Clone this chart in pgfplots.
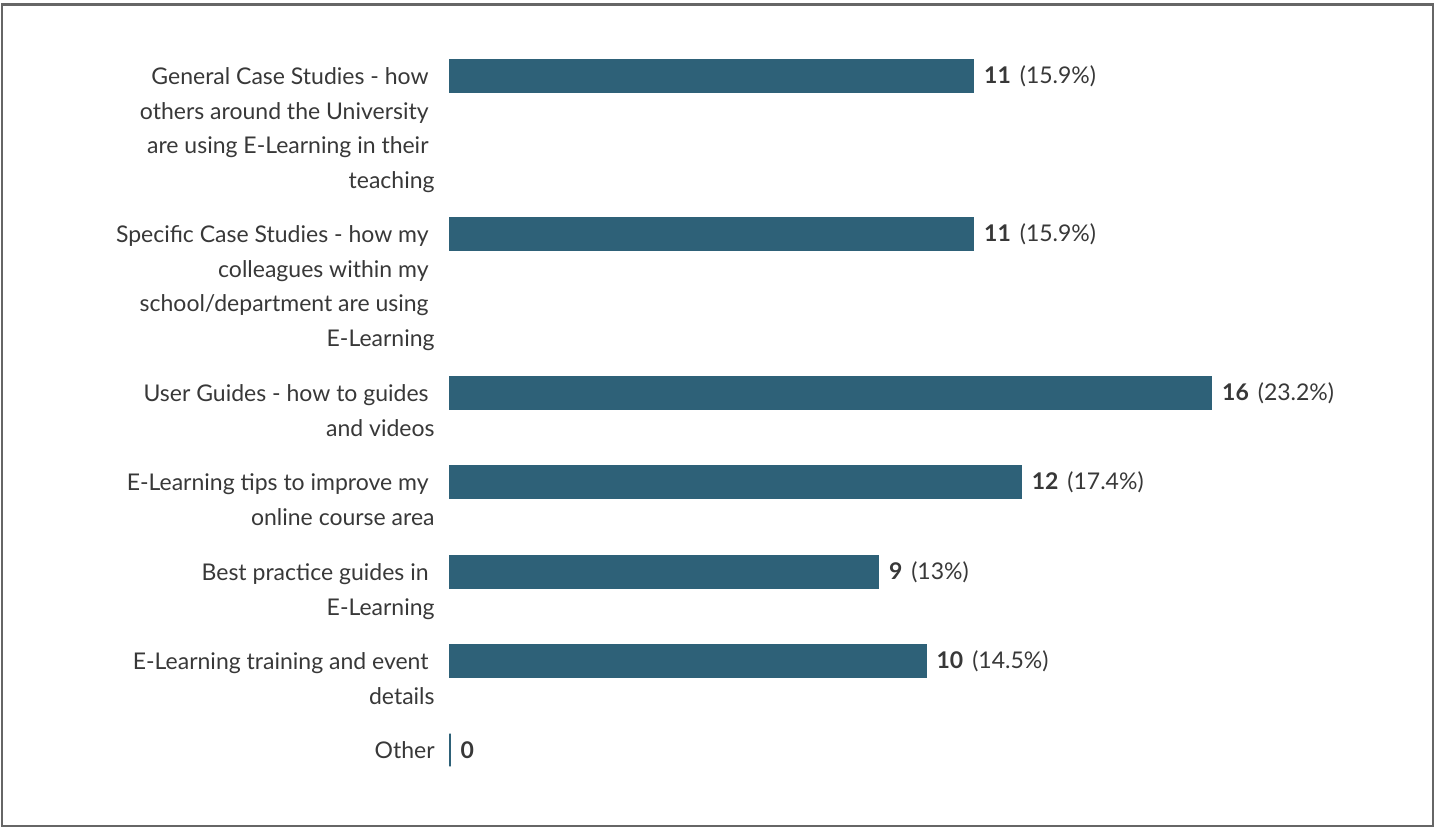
\documentclass[border=0pt]{standalone}
\usepackage{fontspec}
\setmainfont{Lato}
\usepackage{pgfplots}
\pgfplotsset{compat=1.18}
\definecolor{barcol}{HTML}{2E6178}
\definecolor{txt}{HTML}{383838}
\definecolor{frame}{HTML}{666666}
\newcommand{\ts}{\mbox{\kern3pt}}
\begin{document}
\begin{tikzpicture}
\useasboundingbox (0,0) rectangle (717.5pt,-413.5pt);
\draw[frame, line width=1.1pt] (1pt,-2.2pt) rectangle (716.5pt,-413pt);
\begin{axis}[
  at={(225pt,0pt)}, anchor=north west,
  scale only axis, width=476pt, height=413.5pt,
  xmin=0, xmax=20, ymin=0, ymax=827, y dir=reverse,
  xbar, bar width=16.4pt, clip=false,
  axis line style={draw=none}, major tick length=0pt,
  xtick=\empty,
  ytick={76,234,393,482,572,661,750},
  yticklabels={
    {\strut General Case Studies - how\ts\\others around the University\ts\\are using E-Learning in their\ts\\teaching},
    {\strut Specific Case Studies - how my\ts\\colleagues within my\ts\\school/department are using\ts\\E-Learning},
    {\strut User Guides - how to guides\ts\\and videos},
    {\strut E-Learning tips to improve my\ts\\online course area},
    {\strut Best practice guides in\ts\\E-Learning},
    {\strut E-Learning training and event\ts\\details},
    {\strut Other}},
  yticklabel style={align=right, anchor=north east, inner sep=0pt,
    xshift=-7.5pt, yshift=7.8pt, text=txt,
    font=\fontsize{11.5}{17.25}\selectfont},
  point meta=explicit symbolic,
  nodes near coords,
  every node near coord/.append style={anchor=west, inner sep=0pt, xshift=5pt,
    text=txt, font=\fontsize{11.5}{13}\selectfont},
]
\addplot[fill=barcol, draw=barcol, line width=0.6pt] coordinates {
  (11,76) [\textbf{11}\hspace{4.5pt}(15.9\%)]
  (11,234) [\textbf{11}\hspace{4.5pt}(15.9\%)]
  (16,393) [\textbf{16}\hspace{4.5pt}(23.2\%)]
  (12,482) [\textbf{12}\hspace{4.5pt}(17.4\%)]
  (9,572) [\textbf{9}\hspace{4.5pt}(13\%)]
  (10,661) [\textbf{10}\hspace{4.5pt}(14.5\%)]
  (0,750) [\textbf{0}]
};
\end{axis}
\end{tikzpicture}
\end{document}
